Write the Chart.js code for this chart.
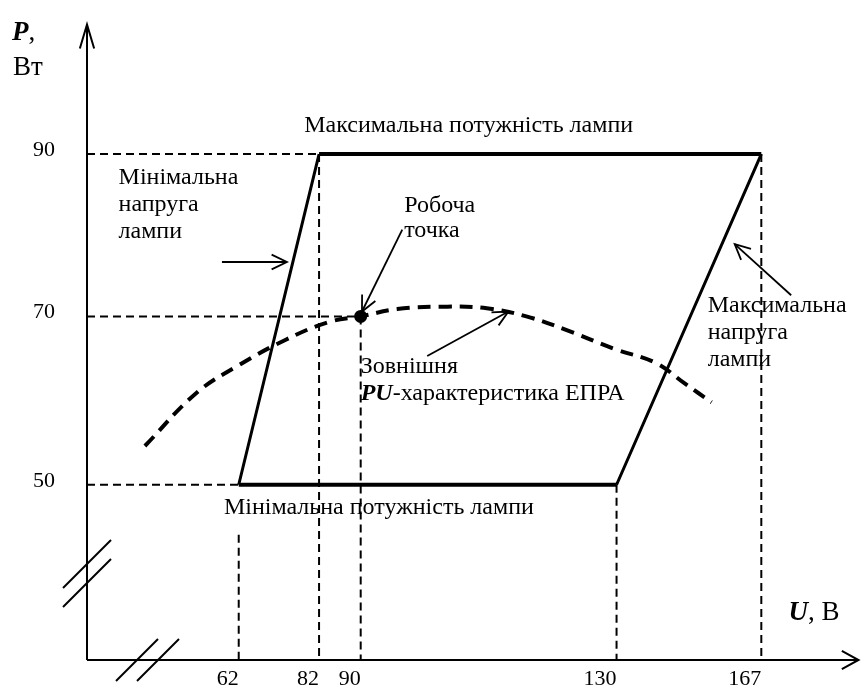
<!DOCTYPE html>
<html lang="uk">
<head>
<meta charset="utf-8">
<title>PU-характеристика ЕПРА</title>
<script src="https://cdn.jsdelivr.net/npm/chart.js@4.4.1/dist/chart.umd.min.js"></script>
<style>
  html, body { margin: 0; padding: 0; background: #fff; }
  #wrap { width: 866px; height: 687px; position: relative; }
</style>
</head>
<body>
<div id="wrap"><canvas id="puChart"></canvas></div>
<script>
// Поділки осей: напруга U, В і потужність P, Вт
const uTicks = [62, 82, 90, 130, 167];
const pTicks = [50, 70, 90];

// Межі осей (вісь з розривом, схема не в масштабі)
const uAxisMin = 24, uAxisMax = 192;
const pAxisMin = 29, pAxisMax = 108;

// Робоча область лампи (паралелограм)
const minPower = 50;
const maxPower = 90;
const minPowerU = [62, 130];
const maxPowerU = [82, 167];

// Робоча точка
const workU = [90];
const workP = [70];

// Зовнішня PU-характеристика ЕПРА
const curveU = [38.5, 51.4, 62, 73.6, 83.7, 90, 95.7, 103.5, 109.7, 115.9, 122.1, 129.8, 139.9, 147.5, 154.3];
const curveP = [54.6, 60.9, 64.2, 67.2, 69.3, 70, 70.9, 71.2, 71.0, 70.0, 68.4, 66.1, 64.5, 62.0, 59.8];

// Допоміжні пунктирні лінії
const hGuideP = [90, 70, 50];
const hGuideToU = [82, 90, 62];
const vGuideU = [62, 82, 90, 130, 167];
const vGuideFromP = [44, 90, 70, 50, 90];

// Положення поділок уздовж осі (частка довжини осі) - схема нерівномірна
const uKnotFrac = [0, 0.1964, 0.3004, 0.3543, 0.6855, 0.8729, 1];
const pKnotFrac = [0, 0.2682, 0.5258, 0.7742, 1];

const knots = {
    x: { v: [uAxisMin, ...uTicks, uAxisMax], f: uKnotFrac },
    y: { v: [pAxisMin, ...pTicks, pAxisMax], f: pKnotFrac }
};

function lerpTable(xs, ys, t) {
    let i = 1;
    while (i < xs.length - 1 && t > xs[i]) i++;
    const a = i - 1;
    return ys[a] + (ys[i] - ys[a]) * (t - xs[a]) / (xs[i] - xs[a]);
}

// Шкала з кусково-лінійним відображенням
class KnotScale extends Chart.LinearScale {
    getPixelForValue(value) {
        if (value === null || value === undefined || isNaN(value)) return NaN;
        const k = knots[this.id];
        return this.getPixelForDecimal(lerpTable(k.v, k.f, value));
    }
    getValueForPixel(pixel) {
        const k = knots[this.id];
        return lerpTable(k.f, k.v, this.getDecimalForPixel(pixel));
    }
}
KnotScale.id = 'knot';
KnotScale.defaults = Chart.LinearScale.defaults;
Chart.register(KnotScale);

const SERIF = '"Liberation Serif", "Times New Roman", serif';

// Підписи (координати у значеннях U, P)
const notes = [
    { u: 78.3, p: 92.7, lh: 27, lines: ['Максимальна потужність лампи'] },
    { u: 31.9, p: 86.3, lh: 27, lines: ['Мінімальна', 'напруга', 'лампи'] },
    { u: 96.8, p: 82.9, lh: 25, lines: ['Робоча', 'точка'] },
    { u: 90, p: 63.3, lh: 27, lines: ['Зовнішня', [['PU', true], ['-характеристика ЕПРА', false]]] },
    { u: 153.3, p: 70.5, lh: 27, lines: ['Максимальна', 'напруга', 'лампи'] },
    { u: 58.3, p: 46.5, lh: 27, lines: ['Мінімальна потужність лампи'] }
];

// Стрілки-вказівники
const pointers = [
    { from: [57.8, 76.7], to: [74, 76.7] },
    { from: [96.5, 80.7], to: [90.2, 70.6] },
    { from: [100.4, 65.3], to: [113.1, 70.6] },
    { from: [174.6, 72.6], to: [160.2, 78.9] }
];

function drawArrowHead(ctx, x1, y1, x2, y2, len, ang) {
    const a = Math.atan2(y2 - y1, x2 - x1);
    ctx.beginPath();
    ctx.moveTo(x2 - len * Math.cos(a - ang), y2 - len * Math.sin(a - ang));
    ctx.lineTo(x2, y2);
    ctx.lineTo(x2 - len * Math.cos(a + ang), y2 - len * Math.sin(a + ang));
    ctx.stroke();
}

function drawRich(ctx, parts, x, y, size) {
    let cx = x;
    parts.forEach(([txt, strong]) => {
        ctx.font = (strong ? 'italic bold ' : '') + size + 'px ' + SERIF;
        ctx.fillText(txt, cx, y);
        cx += ctx.measureText(txt).width;
    });
}

const decor = {
    id: 'decor',
    afterDatasetsDraw(chart) {
        const { ctx, chartArea: a, scales: { x, y } } = chart;
        ctx.save();
        ctx.strokeStyle = '#000';
        ctx.fillStyle = '#000';
        ctx.lineCap = 'butt';

        // осі
        ctx.lineWidth = 2;
        ctx.beginPath();
        ctx.moveTo(a.left, a.bottom);
        ctx.lineTo(a.left, a.top + 18);
        ctx.moveTo(a.left, a.bottom);
        ctx.lineTo(a.right - 1, a.bottom);
        ctx.stroke();
        drawArrowHead(ctx, a.left, a.bottom, a.left, a.top + 18, 25, 0.29);
        drawArrowHead(ctx, a.left, a.bottom, a.right - 1, a.bottom, 19, 0.5);

        // розриви осей
        [a.bottom - 96, a.bottom - 77].forEach(cy => {
            ctx.beginPath();
            ctx.moveTo(a.left - 24, cy + 24);
            ctx.lineTo(a.left + 24, cy - 24);
            ctx.stroke();
        });
        [a.left + 50, a.left + 71].forEach(cx => {
            ctx.beginPath();
            ctx.moveTo(cx - 21, a.bottom + 21);
            ctx.lineTo(cx + 21, a.bottom - 21);
            ctx.stroke();
        });

        // назви осей
        ctx.textBaseline = 'alphabetic';
        ctx.textAlign = 'left';
        drawRich(ctx, [['P', true], [',', false]], a.left - 75, a.top + 33, 27);
        drawRich(ctx, [['Вт', false]], a.left - 74, a.top + 68, 27);
        drawRich(ctx, [['U', true], [', В', false]], a.right - 71, a.bottom - 40, 27);

        // підписи
        notes.forEach(n => {
            const px = x.getPixelForValue(n.u);
            const py = y.getPixelForValue(n.p);
            n.lines.forEach((line, i) => {
                const parts = typeof line === 'string' ? [[line, false]] : line;
                drawRich(ctx, parts, px, py + i * n.lh, 24);
            });
        });

        // стрілки
        ctx.lineWidth = 1.8;
        pointers.forEach(s => {
            const x1 = x.getPixelForValue(s.from[0]), y1 = y.getPixelForValue(s.from[1]);
            const x2 = x.getPixelForValue(s.to[0]), y2 = y.getPixelForValue(s.to[1]);
            ctx.beginPath();
            ctx.moveTo(x1, y1);
            ctx.lineTo(x2, y2);
            ctx.stroke();
            drawArrowHead(ctx, x1, y1, x2, y2, 17, 0.45);
        });
        ctx.restore();
    }
};

// Набори даних
const guideStyle = { borderColor: '#000', borderWidth: 2, borderDash: [8, 5], pointRadius: 0, fill: false, tension: 0, order: 3 };
const guideSets = [];
hGuideP.forEach((p, i) => {
    guideSets.push({ ...guideStyle, data: [{ x: uAxisMin, y: p }, { x: hGuideToU[i], y: p }] });
});
vGuideU.forEach((u, i) => {
    guideSets.push({ ...guideStyle, data: [{ x: u, y: vGuideFromP[i] }, { x: u, y: pAxisMin }] });
});

const datasets = [
    {
        label: 'Робоча точка',
        data: workU.map((u, i) => ({ x: u, y: workP[i] })),
        showLine: false,
        pointRadius: 6.5,
        pointBackgroundColor: '#000',
        pointBorderWidth: 0,
        order: 0
    },
    {
        label: 'Потужність',
        data: [
            { x: maxPowerU[0], y: maxPower }, { x: maxPowerU[1], y: maxPower },
            { x: null, y: null },
            { x: minPowerU[0], y: minPower }, { x: minPowerU[1], y: minPower }
        ],
        borderColor: '#000',
        borderWidth: 4,
        pointRadius: 0,
        spanGaps: false,
        order: 1
    },
    {
        label: 'Напруга',
        data: [
            { x: minPowerU[0], y: minPower }, { x: maxPowerU[0], y: maxPower },
            { x: null, y: null },
            { x: minPowerU[1], y: minPower }, { x: maxPowerU[1], y: maxPower }
        ],
        borderColor: '#000',
        borderWidth: 3,
        pointRadius: 0,
        spanGaps: false,
        order: 1
    },
    {
        label: 'Зовнішня PU-характеристика ЕПРА',
        data: curveU.map((u, i) => ({ x: u, y: curveP[i] })),
        borderColor: '#000',
        borderWidth: 4,
        borderDash: [13, 8],
        pointRadius: 0,
        tension: 0.4,
        order: 2
    },
    ...guideSets
];

const ctx = document.getElementById('puChart').getContext('2d');
const puChart = new Chart(ctx, {
    type: 'line',
    data: { datasets },
    options: {
        responsive: true,
        maintainAspectRatio: false,
        animation: false,
        events: [],
        layout: { padding: 0 },
        plugins: {
            legend: { display: false },
            tooltip: { enabled: false }
        },
        scales: {
            x: {
                type: 'knot',
                min: uAxisMin,
                max: uAxisMax,
                grid: { display: false, drawTicks: false },
                border: { display: false },
                afterBuildTicks: s => { s.ticks = uTicks.map(v => ({ value: v })); },
                afterFit: s => { s.height = 27; s.paddingLeft = 0; s.paddingRight = 0; },
                ticks: {
                    autoSkip: false,
                    maxRotation: 0,
                    align: 'end',
                    padding: 6,
                    color: '#000',
                    font: { family: SERIF, size: 22 },
                    callback: v => String(v)
                }
            },
            y: {
                type: 'knot',
                min: pAxisMin,
                max: pAxisMax,
                grid: { display: false, drawTicks: false },
                border: { display: false },
                afterBuildTicks: s => { s.ticks = pTicks.map(v => ({ value: v })); },
                afterFit: s => { s.width = 87; s.paddingTop = 0; s.paddingBottom = 0; },
                ticks: {
                    autoSkip: false,
                    padding: 32,
                    labelOffset: -4,
                    color: '#000',
                    font: { family: SERIF, size: 22 },
                    callback: v => String(v)
                }
            }
        }
    },
    plugins: [decor]
});
</script>
</body>
</html>
